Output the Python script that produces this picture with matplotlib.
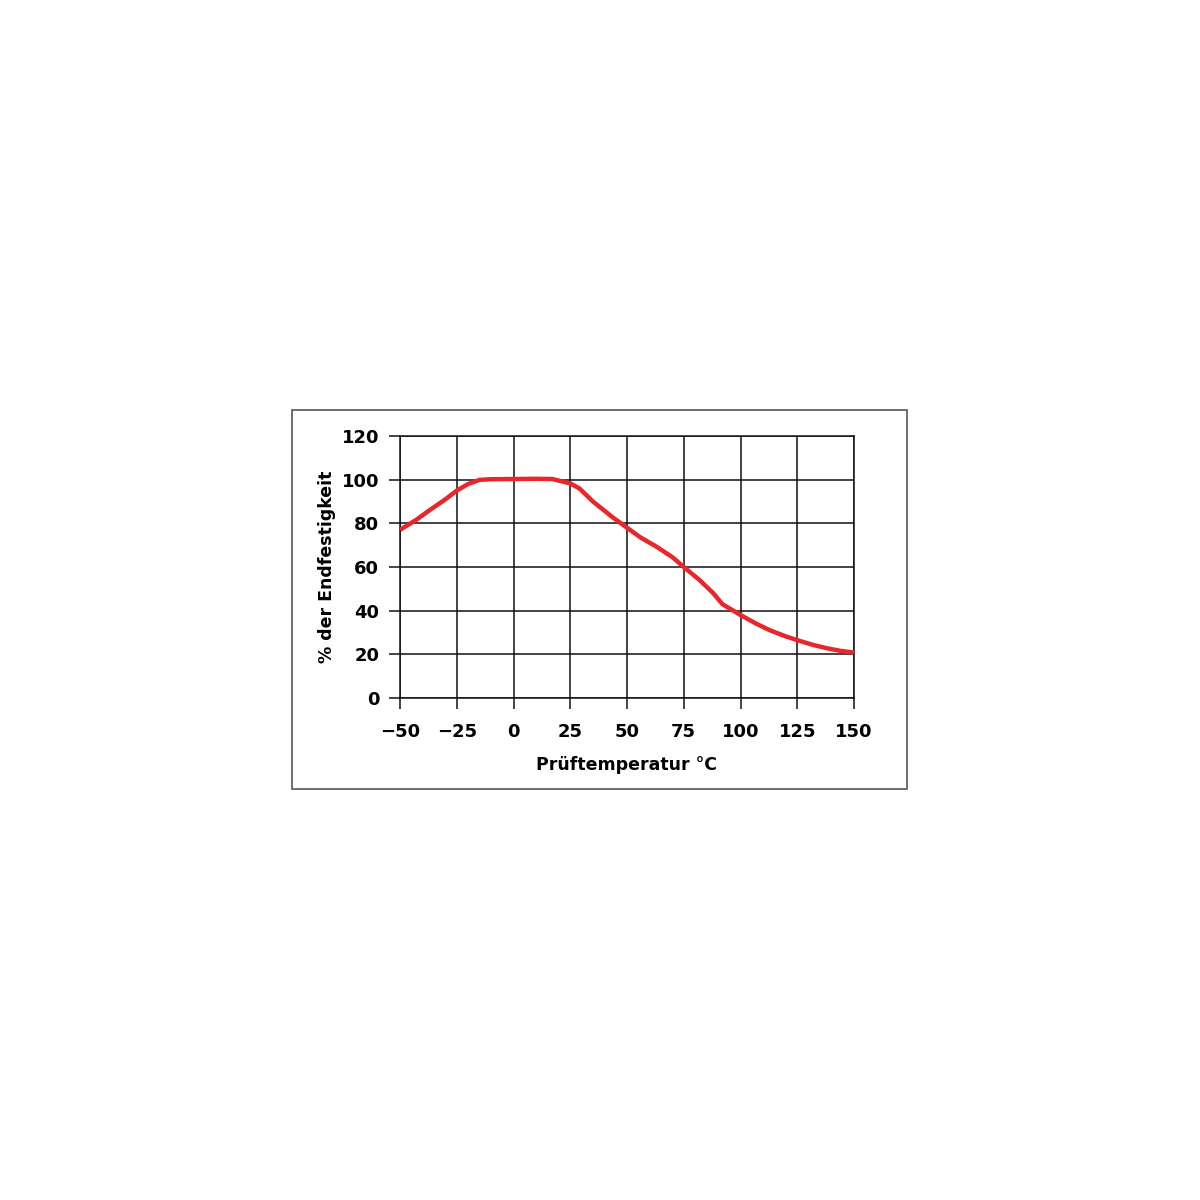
import matplotlib.pyplot as plt
from matplotlib.patches import Rectangle

# Prüftemperatur (°C) und % der Endfestigkeit
temp = [-50, -43, -37, -30, -25, -20, -15, -10, 0, 10, 17, 21, 25, 29, 35, 44, 50, 56, 63, 70, 75, 82, 88, 92, 100, 107, 113, 120, 125, 132, 138, 144, 150]
festigkeit = [77, 81.5, 86, 91, 95, 98, 99.9, 100.2, 100.3, 100.4, 100.3, 99.3, 98.3, 96, 90, 82.5, 78, 73.5, 69.3, 64.5, 60, 54, 48, 43, 38, 34, 31, 28.2, 26.5, 24.3, 22.8, 21.6, 20.8]

xticks = [-50, -25, 0, 25, 50, 75, 100, 125, 150]
yticks = [0, 20, 40, 60, 80, 100, 120]

plt.rcParams['font.family'] = ['DejaVu Sans']
plt.rcParams['font.weight'] = 'bold'

fig = plt.figure(figsize=(12, 12), dpi=100)
fig.patches.append(Rectangle((292 / 1200, 1 - 789 / 1200), 615 / 1200, 379 / 1200,
                             transform=fig.transFigure, fill=False,
                             edgecolor='#555555', linewidth=1.2))

ax = fig.add_axes([400 / 1200, 1 - 698 / 1200, 454 / 1200, 262 / 1200])
ax.plot(temp, festigkeit, color='#e8262c', linewidth=3.2, solid_capstyle='butt', zorder=3)

ax.set_xlim(-50, 150)
ax.set_ylim(0, 120)
ax.set_xticks(xticks)
ax.set_yticks(yticks)
ax.grid(True, color='#111111', linewidth=1.1)
for s in ax.spines.values():
    s.set_color('#111111')
    s.set_linewidth(1.1)
ax.tick_params(axis='both', length=8, width=1.1, color='#111111', labelsize=13)
ax.tick_params(axis='x', pad=10)
ax.tick_params(axis='y', pad=7)
ax.set_xlabel('Prüftemperatur °C', fontsize=12.5, fontweight='bold', labelpad=11)
ax.set_ylabel('% der Endfestigkeit', fontsize=12.5, fontweight='bold', labelpad=4)

fig.savefig('out.png', dpi=100, facecolor='white')
